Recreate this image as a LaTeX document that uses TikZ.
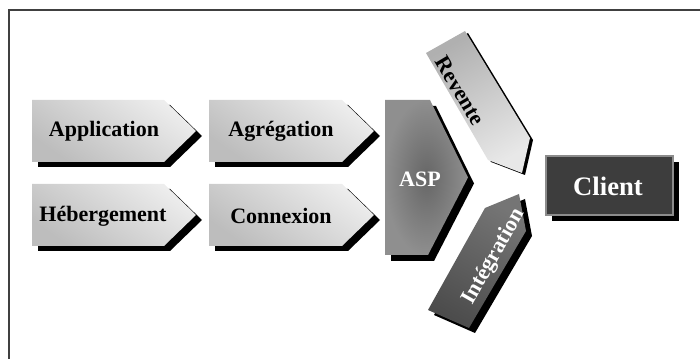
\documentclass[tikz,border=0pt]{standalone}
\usepackage{fontspec}
\setmainfont{Liberation Serif}

\tikzset{every picture/.style={line width=0.75pt}}
\tikzset{
  shadowfill/.style={fill=black, draw=none},
  lightfill/.style={top color=gray!14, bottom color=gray!52, shading angle=-35, draw=none},
  aspfill/.style={inner color=black!60, outer color=black!44, draw=none},
  reventefill/.style={top color=gray!62, bottom color=gray!18, shading angle=30, draw=none},
  integrfill/.style={top color=black!54, bottom color=black!70, shading angle=-30, draw=none},
  clientfill/.style={fill=black!76, draw=black!45, line width=0.9pt},
  darklbl/.style={inner sep=0.75pt, font=\fontsize{16.5}{18}\selectfont\bfseries},
  whitelbl/.style={darklbl, text=white},
}

\begin{document}
\begin{tikzpicture}[x=0.75pt,y=0.75pt,yscale=-1,xscale=1]
\useasboundingbox (0,0) rectangle (700,359);

%Frame
\draw [color=black!75, line width=1.1pt]  (9,359) -- (9,10) -- (700,10) ;

%Arrow Shape: Application
\path [shadowfill, shift={(6,5)}]  (32,100) -- (164,100) -- (196,131) -- (164,162) -- (32,162) -- cycle ;
\path [lightfill]  (32,100) -- (164,100) -- (196,131) -- (164,162) -- (32,162) -- cycle ;
%Arrow Shape: Hébergement
\path [shadowfill, shift={(6,5)}]  (32,184) -- (164,184) -- (196,215) -- (164,246) -- (32,246) -- cycle ;
\path [lightfill]  (32,184) -- (164,184) -- (196,215) -- (164,246) -- (32,246) -- cycle ;
%Arrow Shape: Agrégation
\path [shadowfill, shift={(6,5)}]  (209,100) -- (342,100) -- (374,131) -- (342,162) -- (209,162) -- cycle ;
\path [lightfill]  (209,100) -- (342,100) -- (374,131) -- (342,162) -- (209,162) -- cycle ;
%Arrow Shape: Connexion
\path [shadowfill, shift={(6,5)}]  (209,184) -- (342,184) -- (374,215) -- (342,246) -- (209,246) -- cycle ;
\path [lightfill]  (209,184) -- (342,184) -- (374,215) -- (342,246) -- (209,246) -- cycle ;
%Arrow Shape: ASP
\path [shadowfill, shift={(6,6)}]  (385,100) -- (430,100) -- (468,177.5) -- (428,255) -- (385,255) -- cycle ;
\path [aspfill]  (385,100) -- (430,100) -- (468,177.5) -- (428,255) -- (385,255) -- cycle ;
%Arrow Shape: Revente
\path [shadowfill, shift={(3,2)}]  (426,53) -- (465,31) -- (530,138) -- (522,173) -- (488,160) -- cycle ;
\path [reventefill]  (426,53) -- (465,31) -- (530,138) -- (522,173) -- (488,160) -- cycle ;
%Arrow Shape: Intégration
\path [shadowfill, shift={(6,5)}]  (428,310) -- (485,208) -- (519,194) -- (526,231) -- (469,328) -- cycle ;
\path [integrfill]  (428,310) -- (485,208) -- (519,194) -- (526,231) -- (469,328) -- cycle ;
%Box: Client
\path [shadowfill]  (552,162) rectangle (679,221) ;
\draw [clientfill]  (546,156) rectangle (673,215) ;

% Text Node
\node [darklbl] (application) at (104,131) {Application};
% Text Node
\node [darklbl] (hebergement) at (103,216) {Hébergement};
% Text Node
\node [darklbl] (agregation) at (281,131) {Agrégation};
% Text Node
\node [darklbl] (connexion) at (281,216) {Connexion};
% Text Node
\node [whitelbl] (asp) at (420,179) {ASP};
% Text Node
\node [darklbl, rotate=-59.5] (revente) at (460,91) {Revente};
% Text Node
\node [whitelbl, rotate=60.4] (integration) at (494,257) {Intégration};
% Text Node
\node [whitelbl, font=\fontsize{20}{22}\selectfont\bfseries] (client) at (608,186) {Client};

\end{tikzpicture}
\end{document}
